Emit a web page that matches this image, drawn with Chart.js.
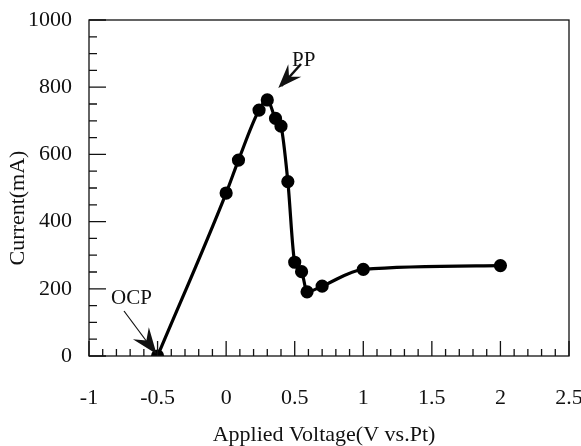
<!DOCTYPE html>
<html>
<head>
<meta charset="utf-8">
<script src="https://cdn.jsdelivr.net/npm/chart.js@4"></script>
<style>
  body { margin: 0; background: #fff; }
  #wrap { width: 581px; height: 446px; }
</style>
</head>
<body>
<div id="wrap"><canvas id="ivChart" width="581" height="446"></canvas></div>
<script>
/* ---- data ---- */
const voltage = [-0.5, 0.0, 0.09, 0.24, 0.3, 0.36, 0.4, 0.45, 0.5, 0.55, 0.59, 0.7, 1.0, 2.0];
const current = [0, 485, 583, 732, 762, 707, 684, 519, 279, 251, 191, 208, 258, 269];

const xTicks = [-1, -0.5, 0, 0.5, 1, 1.5, 2, 2.5];
const yTicks = [0, 200, 400, 600, 800, 1000];

const points = voltage.map((v, i) => ({ x: v, y: current[i] }));

const serif = "'Liberation Serif', 'DejaVu Serif', serif";

function arrowHead(ctx, tipX, tipY, fromX, fromY, len, half) {
  const a = Math.atan2(tipY - fromY, tipX - fromX);
  ctx.save();
  ctx.translate(tipX, tipY);
  ctx.rotate(a);
  ctx.beginPath();
  ctx.moveTo(0, 0);
  ctx.lineTo(-len, -half);
  ctx.lineTo(-len * 0.65, 0);
  ctx.lineTo(-len, half);
  ctx.closePath();
  ctx.fill();
  ctx.restore();
}

function noOverhang(scale) {
  scale.paddingLeft = 0;
  scale.paddingRight = 0;
  scale.paddingTop = 0;
  scale.paddingBottom = 0;
}

/* frame, inward ticks, labels */
const decor = {
  id: "decor",
  afterDraw(chart) {
    const ctx = chart.ctx;
    const a = chart.chartArea;
    const xs = chart.scales.x, ys = chart.scales.y;
    ctx.save();
    ctx.strokeStyle = "#111";
    ctx.fillStyle = "#111";
    ctx.lineWidth = 1.3;
    ctx.strokeRect(a.left, a.top, a.right - a.left, a.bottom - a.top);

    ctx.beginPath();
    for (let v = -1; v <= 2.5001; v += 0.1) {
      const px = xs.getPixelForValue(v);
      const major = Math.abs(v * 2 - Math.round(v * 2)) < 1e-6;
      ctx.moveTo(px, a.bottom);
      ctx.lineTo(px, a.bottom - (major ? 15 : 7));
    }
    for (let v = 0; v <= 1000; v += 50) {
      const py = ys.getPixelForValue(v);
      const major = v % 200 === 0;
      ctx.moveTo(a.left, py);
      ctx.lineTo(a.left + (major ? 17 : 8), py);
    }
    ctx.stroke();

    // axis titles
    ctx.font = "22px " + serif;
    ctx.textAlign = "center";
    ctx.textBaseline = "middle";
    ctx.fillText("Applied Voltage(V vs.Pt)", 324, 435);
    ctx.save();
    ctx.translate(18, 208);
    ctx.rotate(-Math.PI / 2);
    ctx.fillText("Current(mA)", 0, 0);
    ctx.restore();

    // annotations
    ctx.font = "21px " + serif;
    ctx.textAlign = "left";
    ctx.fillText("PP", 292, 60);
    ctx.fillText("OCP", 111, 298);

    const ppX = xs.getPixelForValue(0.3), ppY = ys.getPixelForValue(762);
    ctx.lineWidth = 2.5;
    ctx.beginPath();
    ctx.moveTo(301, 64);
    ctx.lineTo(ppX + 14, ppY - 14);
    ctx.stroke();
    arrowHead(ctx, ppX + 11, ppY - 12, 301, 64, 24, 9);

    const ocX = xs.getPixelForValue(-0.5), ocY = ys.getPixelForValue(0);
    ctx.lineWidth = 1.2;
    ctx.beginPath();
    ctx.moveTo(124, 311);
    ctx.lineTo(ocX - 6, ocY - 8);
    ctx.stroke();
    arrowHead(ctx, ocX - 1, ocY - 2, 124, 311, 26, 10);
    ctx.restore();
  }
};

new Chart(
document.getElementById("ivChart"),
{
type: "scatter",

data: {
datasets: [{
label: "Current",
data: points,
showLine: true,
borderColor: "#000",
backgroundColor: "#000",
borderWidth: 3.2,
pointRadius: 5,
pointHoverRadius: 5,
cubicInterpolationMode: "monotone"
}]
},

options: {
responsive: false,
animation: false,
layout: {
padding: { top: 20, right: 12, left: 0, bottom: 0 }
},
plugins: {
legend: { display: false },
tooltip: { enabled: false }
},
scales: {
x: {
type: "linear",
min: -1,
max: 2.5,
afterFit(scale) { scale.height = 90; noOverhang(scale); },
afterBuildTicks(scale) { scale.ticks = xTicks.map(v => ({ value: v })); },
grid: { display: false, drawTicks: false },
border: { display: false },
ticks: {
color: "#111",
padding: 29,
maxRotation: 0,
font: { family: serif, size: 22 },
callback: v => String(v)
}
},
y: {
min: 0,
max: 1000,
afterFit(scale) { scale.width = 89; noOverhang(scale); },
afterBuildTicks(scale) { scale.ticks = yTicks.map(v => ({ value: v })); },
grid: { display: false, drawTicks: false },
border: { display: false },
ticks: {
color: "#111",
padding: 17,
font: { family: serif, size: 22 },
callback: v => String(v)
}
}
}
},

plugins: [decor]
}
);
</script>
</body>
</html>
